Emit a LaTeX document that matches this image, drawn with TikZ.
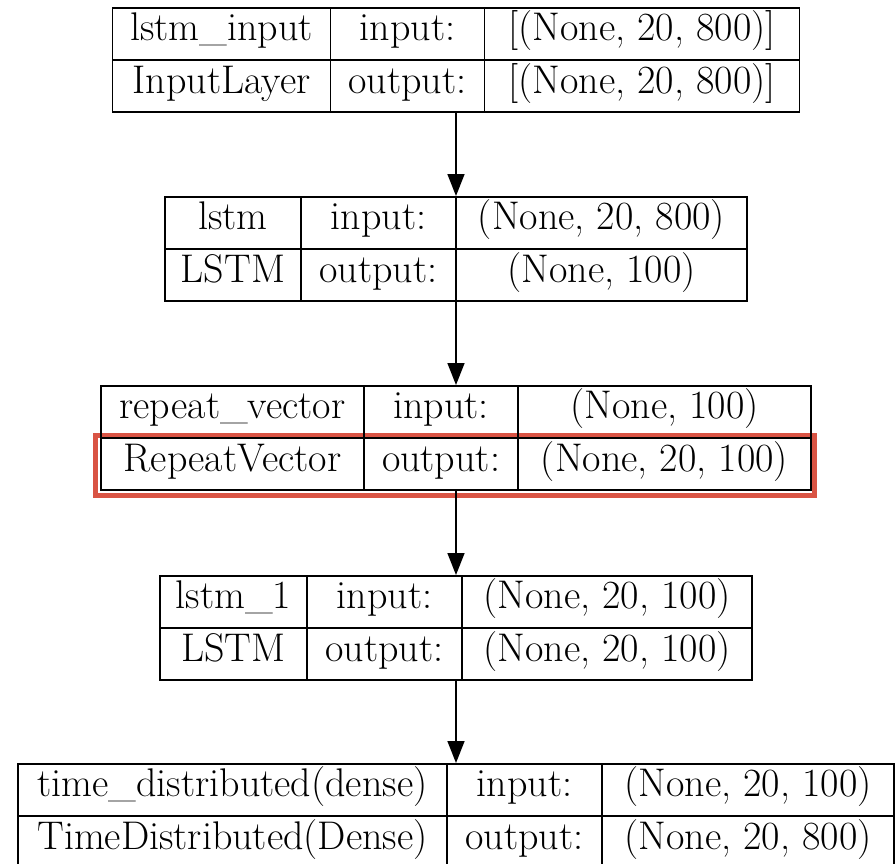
\documentclass[tikz,border=0pt]{standalone}
\usetikzlibrary{arrows.meta}
\definecolor{hilite}{RGB}{217,84,68}
\tikzset{
  layerbox/.style={draw, line width=1.5pt, minimum height=104pt, inner sep=0pt},
  cellrule/.style={line width=1.5pt},
  celltext/.style={font=\fontsize{40}{44}\selectfont, inner sep=0pt, anchor=base},
  flow/.style={line width=1.5pt, -{Triangle[length=22pt,width=17pt]}}
}
% #1 node name, #2 top edge, #3-#5 column widths, #6-#9 cell texts
\newcommand{\kerasbox}[9]{%
  \pgfmathsetmacro\xa{456-(#3+#4+#5)/2}
  \pgfmathsetmacro\xb{\xa+#3}
  \pgfmathsetmacro\xc{\xb+#4}
  \pgfmathsetmacro\xd{\xc+#5}
  \node[layerbox, minimum width=#3pt+#4pt+#5pt, anchor=north] (#1) at (456,#2) {};
  \draw[cellrule] (\xa,#2+53) -- (\xd,#2+53);
  \draw[cellrule] (\xb,#2) -- (\xb,#2+104) (\xc,#2) -- (\xc,#2+104);
  \node[celltext] (#1-name)  at ({(\xa+\xb)/2},#2+33) {#6};
  \node[celltext] (#1-class) at ({(\xa+\xb)/2},#2+86) {#7};
  \node[celltext] (#1-in)    at ({(\xb+\xc)/2},#2+33) {input:};
  \node[celltext] (#1-out)   at ({(\xb+\xc)/2},#2+86) {output:};
  \node[celltext] (#1-ishape) at ({(\xc+\xd)/2},#2+33) {#8};
  \node[celltext] (#1-oshape) at ({(\xc+\xd)/2},#2+86) {#9};
}
\begin{document}
\begin{tikzpicture}[x=1pt,y=-1pt]
\useasboundingbox (0,0) rectangle (895,863);
\draw[hilite, line width=5pt] (95,435.5) rectangle (814.5,495);
\kerasbox{inlayer}{7}{218}{154}{315}{lstm\_input}{InputLayer}{[(None, 20, 800)]}{[(None, 20, 800)]}
\kerasbox{lstm}{196}{136}{155}{291}{lstm}{LSTM}{(None, 20, 800)}{(None, 100)}
\kerasbox{repeat}{385}{263}{154}{293}{repeat\_vector}{RepeatVector}{(None, 100)}{(None, 20, 100)}
\kerasbox{lstmb}{575}{147}{155}{290}{lstm\_1}{LSTM}{(None, 20, 100)}{(None, 20, 100)}
\kerasbox{timedist}{763}{429}{155}{292}{time\_distributed(dense)}{TimeDistributed(Dense)}{(None, 20, 100)}{(None, 20, 800)}
\foreach \a/\b in {inlayer/lstm, lstm/repeat, repeat/lstmb, lstmb/timedist}
  \draw[flow] (\a.south) -- (\b.north);
\end{tikzpicture}
\end{document}
